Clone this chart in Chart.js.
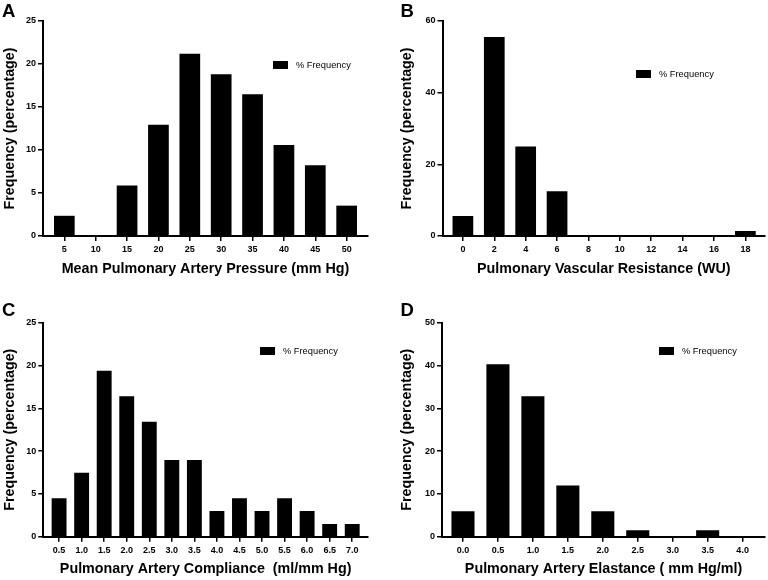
<!DOCTYPE html>
<html>
<head>
<meta charset="utf-8">
<title>Pulmonary haemodynamics histograms</title>
<script src="https://cdn.jsdelivr.net/npm/chart.js@4.4.1/dist/chart.umd.min.js"></script>
<style>
  html, body { margin: 0; padding: 0; background: #fff; }
  #wrap { position: relative; width: 768px; height: 580px; }
  #wrap canvas { position: absolute; }
</style>
</head>
<body>
<div id="wrap">
  <canvas id="panelA" width="384" height="290" style="left:0;top:0"></canvas>
  <canvas id="panelB" width="384" height="290" style="left:384px;top:0"></canvas>
  <canvas id="panelC" width="384" height="290" style="left:0;top:290px"></canvas>
  <canvas id="panelD" width="384" height="290" style="left:384px;top:290px"></canvas>
</div>
<script>
// Histogram data (% frequency per bin)

// A - mean pulmonary artery pressure
const mpapBins = ['5', '10', '15', '20', '25', '30', '35', '40', '45', '50'];
const mpapFreq = [2.35, 0, 5.88, 12.94, 21.18, 18.82, 16.47, 10.59, 8.24, 3.53];

// B - pulmonary vascular resistance
const pvrBins = ['0', '2', '4', '6', '8', '10', '12', '14', '16', '18'];
const pvrFreq = [5.56, 55.56, 25.0, 12.5, 0, 0, 0, 0, 0, 1.39];

// C - pulmonary artery compliance
const compBins = ['0.5', '1.0', '1.5', '2.0', '2.5', '3.0', '3.5', '4.0', '4.5', '5.0', '5.5', '6.0', '6.5', '7.0'];
const compFreq = [4.48, 7.46, 19.40, 16.42, 13.43, 8.96, 8.96, 2.99, 4.48, 2.99, 4.48, 2.99, 1.49, 1.49];

// D - pulmonary artery elastance
const elasBins = ['0.0', '0.5', '1.0', '1.5', '2.0', '2.5', '3.0', '3.5', '4.0'];
const elasFreq = [5.97, 40.30, 32.84, 11.94, 5.97, 1.49, 0, 1.49, 0];

const seriesLabel = '% Frequency';
const yTitle = 'Frequency (percentage)';

const FONT = "'Liberation Sans', Arial, Helvetica, sans-serif";

// draws the small legend that sits inside the plot
const insideLegend = {
  id: 'insideLegend',
  afterDraw(chart, args, opts) {
    const ctx = chart.ctx;
    ctx.save();
    ctx.fillStyle = '#000';
    ctx.fillRect(opts.x, opts.y, 15, 8);
    ctx.font = '9.3px ' + FONT;
    ctx.textBaseline = 'middle';
    ctx.textAlign = 'left';
    ctx.fillText(chart.data.datasets[0].label, opts.x + 23, opts.y + 4.5);
    ctx.restore();
  }
};

// panel letter A/B/C/D
const panelLetter = {
  id: 'panelLetter',
  afterDraw(chart, args, opts) {
    const ctx = chart.ctx;
    ctx.save();
    ctx.fillStyle = '#000';
    ctx.font = 'bold 18.5px ' + FONT;
    ctx.textBaseline = 'alphabetic';
    ctx.fillText(opts.text, opts.x, opts.y);
    ctx.restore();
  }
};

function makePanel(id, p) {
  const data = p.bins.map((b, i) => ({ x: Number(b), y: p.freq[i] }));
  const axisGrid = () => ({
    display: true,
    offset: false,
    drawOnChartArea: false,
    drawTicks: true,
    tickLength: 5,
    color: '#000',
    lineWidth: 1.5
  });
  new Chart(document.getElementById(id), {
    type: 'bar',
    data: {
      datasets: [{
        label: seriesLabel,
        data: data,
        backgroundColor: '#000',
        borderWidth: 0,
        categoryPercentage: 1,
        barPercentage: 0.66
      }]
    },
    options: {
      responsive: false,
      animation: false,
      devicePixelRatio: 1,
      layout: { padding: { left: 0, top: p.top, right: p.right, bottom: 0 } },
      plugins: {
        legend: { display: false },
        tooltip: { enabled: false },
        insideLegend: p.legend,
        panelLetter: p.letter
      },
      scales: {
        x: {
          type: 'linear',
          offset: false,
          min: p.xMin,
          max: p.xMax,
          afterBuildTicks: s => { s.ticks = p.bins.map(b => ({ value: Number(b) })); },
          afterFit: s => { s.height = p.bottom; },
          ticks: {
            autoSkip: false,
            maxRotation: 0,
            padding: 3,
            color: '#000',
            font: { family: FONT, size: 9, weight: 'bold' },
            callback: (v, i) => p.bins[i]
          },
          grid: axisGrid(),
          border: { color: '#000', width: 2 },
          title: {
            display: true,
            text: p.xTitle,
            color: '#000',
            font: { family: FONT, size: 14.3, weight: 'bold' },
            padding: { top: 0, bottom: p.xTitlePad }
          }
        },
        y: {
          min: 0,
          max: p.yMax,
          afterFit: s => { s.width = p.left; },
          ticks: {
            stepSize: p.yStep,
            padding: 2,
            color: '#000',
            font: { family: FONT, size: 9, weight: 'bold' }
          },
          grid: axisGrid(),
          border: { color: '#000', width: 2 },
          title: {
            display: true,
            text: yTitle,
            color: '#000',
            font: { family: FONT, size: 14.3, weight: 'bold' },
            padding: { top: p.yTitlePad, bottom: 0 }
          }
        }
      }
    },
    plugins: [insideLegend, panelLetter]
  });
}

makePanel('panelA', {
  bins: mpapBins, freq: mpapFreq,
  xTitle: 'Mean Pulmonary Artery Pressure (mm Hg)',
  xMin: 1.6, xMax: 53.4, yMax: 25, yStep: 5,
  top: 21, right: 16, bottom: 54, left: 43,
  xTitlePad: 12, yTitlePad: 1,
  legend: { x: 273, y: 61 },
  letter: { text: 'A', x: 2, y: 16.5 }
});

makePanel('panelB', {
  bins: pvrBins, freq: pvrFreq,
  xTitle: 'Pulmonary Vascular Resistance (WU)',
  xMin: -1.3, xMax: 19.25, yMax: 60, yStep: 20,
  top: 21, right: 3, bottom: 54, left: 58.5,
  xTitlePad: 12, yTitlePad: 14,
  legend: { x: 252, y: 70 },
  letter: { text: 'B', x: 16.5, y: 16.5 }
});

makePanel('panelC', {
  bins: compBins, freq: compFreq,
  xTitle: 'Pulmonary Artery Compliance  (ml/mm Hg)',
  xMin: 0.15, xMax: 7.35, yMax: 25, yStep: 5,
  top: 32.7, right: 16, bottom: 43.3, left: 43.3,
  xTitlePad: 2.6, yTitlePad: 1,
  legend: { x: 260, y: 57 },
  letter: { text: 'C', x: 2, y: 25.5 }
});

makePanel('panelD', {
  bins: elasBins, freq: elasFreq,
  xTitle: 'Pulmonary Artery Elastance ( mm Hg/ml)',
  xMin: -0.3, xMax: 4.32, yMax: 50, yStep: 10,
  top: 32.7, right: 3, bottom: 43.3, left: 58,
  xTitlePad: 2.6, yTitlePad: 14,
  legend: { x: 275, y: 57 },
  letter: { text: 'D', x: 16.5, y: 25.5 }
});
</script>
</body>
</html>
